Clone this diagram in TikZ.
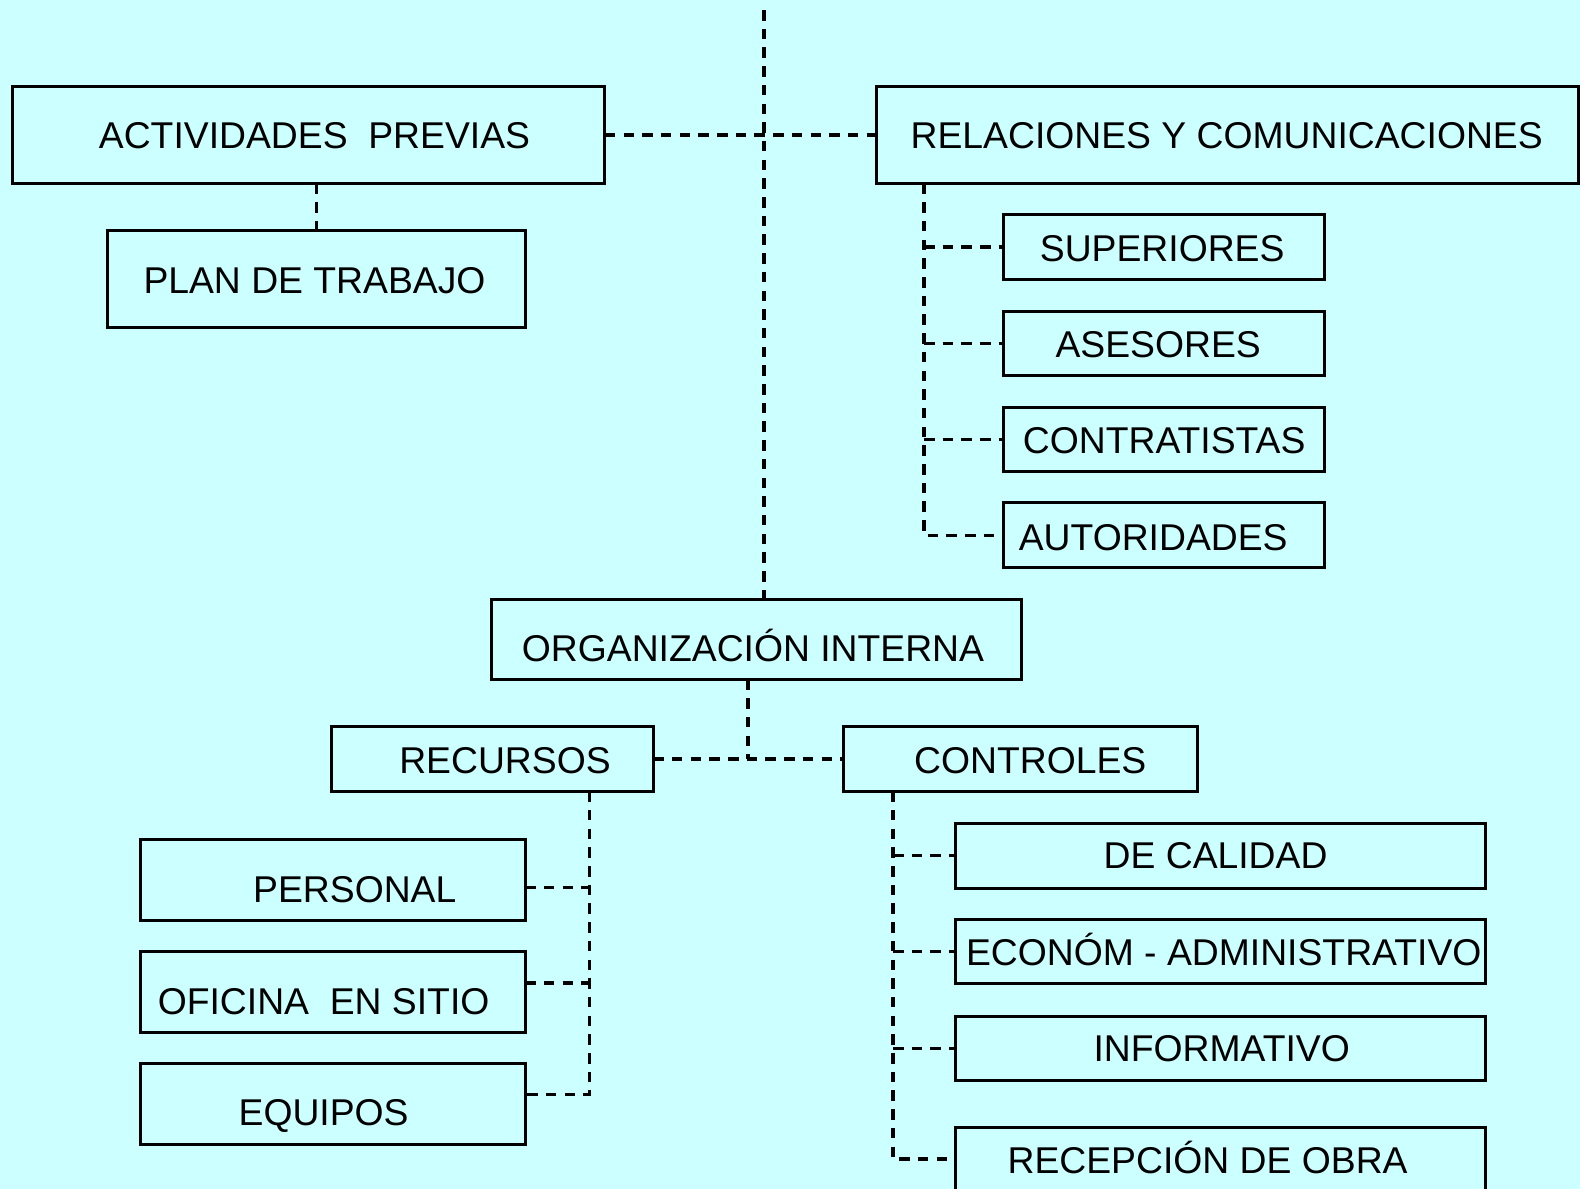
\documentclass[tikz,border=0pt]{standalone}
\usepackage{fontspec}
\setmainfont{Liberation Sans}
\definecolor{bgcyan}{RGB}{204,255,255}
\tikzset{
  box/.style={draw=black, line width=3pt, rectangle, inner sep=0pt, outer sep=0pt},
  lbl/.style={anchor=base, inner sep=0pt, outer sep=0pt, font=\fontsize{37.3}{41}\selectfont},
  conn/.style={draw=black, line width=3.3pt, dash pattern=on 10.5pt off 8.2pt},
}
\begin{document}
\begin{tikzpicture}[x=1pt,y=-1pt]
\useasboundingbox (0,0) rectangle (1580,1189);
\fill[bgcyan] (0,0) rectangle (1580,1189);
\clip (0,0) rectangle (1580,1189);

% boxes
\node[box, minimum width=592.7pt, minimum height=96.8pt] (act) at (308.5,135.1) {};
\node[box, minimum width=702pt, minimum height=96.8pt] (rel) at (1227,135.1) {};
\node[box, minimum width=417.3pt, minimum height=96.8pt] (plan) at (316.5,279.2) {};
\node[box, minimum width=321pt, minimum height=64.5pt] (sup) at (1164,247) {};
\node[box, minimum width=321pt, minimum height=64.5pt] (ase) at (1164,343.7) {};
\node[box, minimum width=321pt, minimum height=64.5pt] (con) at (1164,439.5) {};
\node[box, minimum width=321pt, minimum height=64.5pt] (aut) at (1164,535.2) {};
\node[box, minimum width=529.2pt, minimum height=79.6pt] (org) at (756.5,639.6) {};
\node[box, minimum width=321.6pt, minimum height=64.5pt] (rec) at (492.4,759) {};
\node[box, minimum width=353.8pt, minimum height=64.5pt] (ctl) at (1020.6,759) {};
\node[box, minimum width=385.1pt, minimum height=80.6pt] (per) at (332.7,880) {};
\node[box, minimum width=385.1pt, minimum height=80.6pt] (ofi) at (332.7,991.9) {};
\node[box, minimum width=385.1pt, minimum height=80.6pt] (equ) at (332.7,1103.8) {};
\node[box, minimum width=530.2pt, minimum height=64.5pt] (cal) at (1220.7,855.8) {};
\node[box, minimum width=530.2pt, minimum height=64.5pt] (eco) at (1220.7,951.6) {};
\node[box, minimum width=530.2pt, minimum height=64.5pt] (inf) at (1220.7,1048.3) {};
\node[box, minimum width=530.2pt, minimum height=100pt] (rcp) at (1220.7,1177) {};

% labels
\node[lbl] (tact) at (314.5,148.2) {ACTIVIDADES\ \ PREVIAS};
\node[lbl] (trel) at (1226.7,148.2) {RELACIONES Y COMUNICACIONES};
\node[lbl] (tplan) at (314.5,293.3) {PLAN DE TRABAJO};
\node[lbl] (tsup) at (1162.2,261.1) {SUPERIORES};
\node[lbl] (tase) at (1158.2,357.8) {ASESORES};
\node[lbl] (tcon) at (1164.2,453.6) {CONTRATISTAS};
\node[lbl] (taut) at (1153.2,550.4) {AUTORIDADES};
\node[lbl] (torg) at (753,661.2) {ORGANIZACIÓN INTERNA};
\node[lbl] (trec) at (505,773.1) {RECURSOS};
\node[lbl] (tctl) at (1030.2,773.1) {CONTROLES};
\node[lbl] (tper) at (354.8,902.2) {PERSONAL};
\node[lbl] (tofi) at (323.6,1014) {OFICINA\ \ EN SITIO};
\node[lbl] (tequ) at (323.6,1125.9) {EQUIPOS};
\node[lbl] (tcal) at (1215.6,868.9) {DE CALIDAD};
\node[lbl] (teco) at (1223.7,965.7) {ECONÓM - ADMINISTRATIVO};
\node[lbl] (tinf) at (1221.7,1061.4) {INFORMATIVO};
\node[lbl] (trcp) at (1207.6,1173.3) {RECEPCIÓN DE OBRA};

% junction coordinates
\coordinate (top) at (764,10);
\coordinate (jorg) at (748,759);
\coordinate (rel4) at (924,535.2);
\coordinate (rec3) at (589.5,1094.8);
\coordinate (bper) at (589.5,887.3);
\coordinate (bofi) at (589.5,983);
\coordinate (ctl4) at (893,1159);

% connectors
\draw[conn] (top) -- (org.north -| top);
\draw[conn] (act.east) -- (rel.west);
\draw[conn] (act.south -| plan.north) -- (plan.north);
\draw[conn] (rel.south -| rel4) -- (rel4) -- (aut.west);
\draw[conn] (rel4 |- sup.west) -- (sup.west);
\draw[conn] (rel4 |- ase.west) -- (ase.west);
\draw[conn] (rel4 |- con.west) -- (con.west);
\draw[conn] (org.south -| jorg) -- (jorg);
\draw[conn] (rec.east) -- (ctl.west);
\draw[conn] (rec.south -| rec3) -- (rec3) -- (equ.east |- rec3);
\draw[conn] (per.east |- bper) -- (bper);
\draw[conn] (ofi.east |- bofi) -- (bofi);
\draw[conn] (ctl.south -| ctl4) -- (ctl4) -- (rcp.west |- ctl4);
\draw[conn] (ctl4 |- cal.west) -- (cal.west);
\draw[conn] (ctl4 |- eco.west) -- (eco.west);
\draw[conn] (ctl4 |- inf.west) -- (inf.west);
\end{tikzpicture}
\end{document}
